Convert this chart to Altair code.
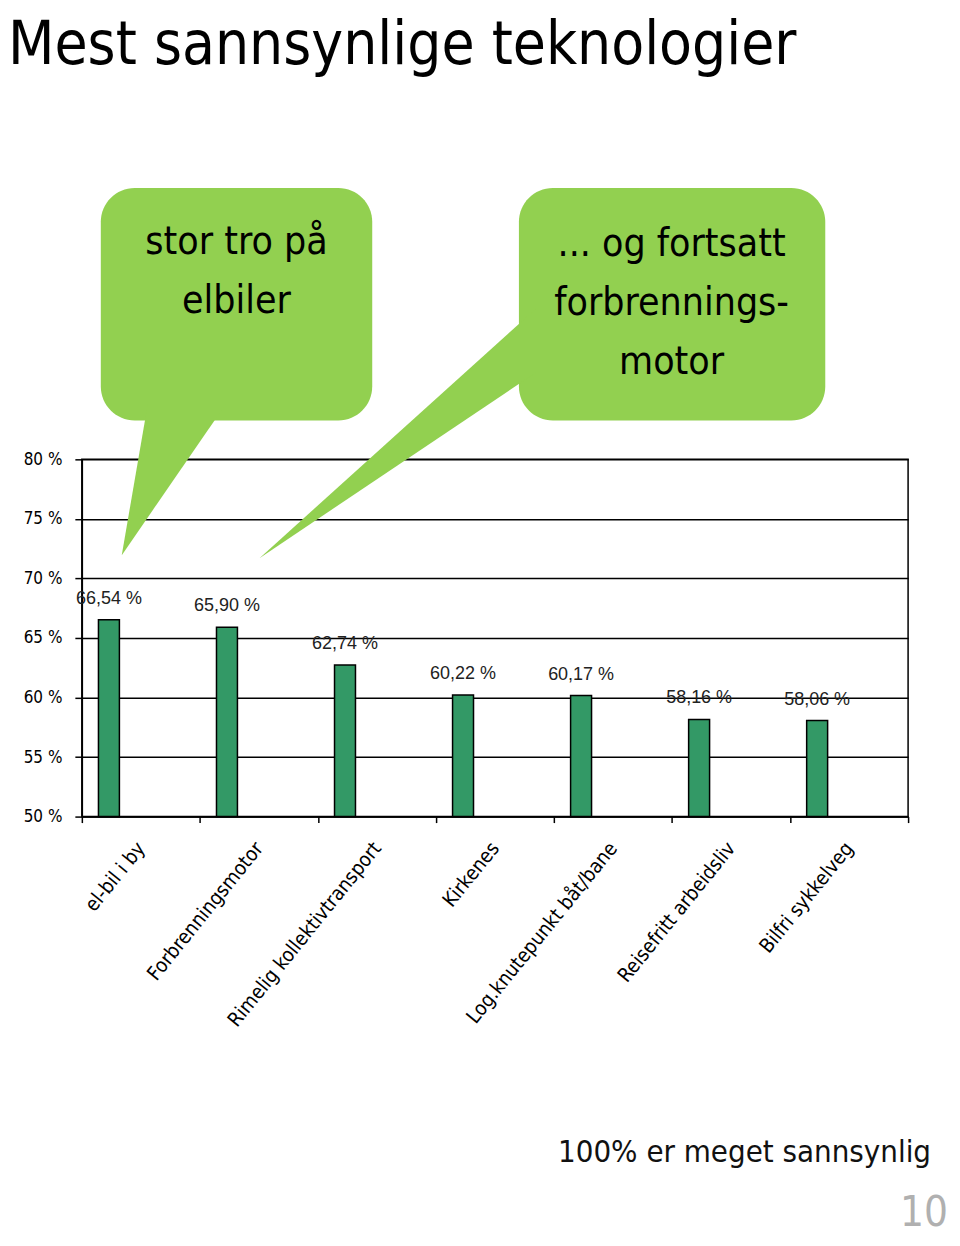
import altair as alt
import pandas as pd

# ---------------- data ----------------
categories = ["el-bil i by", "Forbrenningsmotor", "Rimelig kollektivtransport", "Kirkenes",
              "Log.knutepunkt båt/bane", "Reisefritt arbeidsliv", "Bilfri sykkelveg"]
values = [66.54, 65.90, 62.74, 60.22, 60.17, 58.16, 58.06]
y_ticks = [50, 55, 60, 65, 70, 75, 80]

title_text = "Mest sannsynlige teknologier"
bubble1_lines = ["stor tro på", "elbiler"]
bubble2_lines = ["... og fortsatt", "forbrennings-", "motor"]
note_text = "100% er meget sannsynlig"
page_no = "10"

df = pd.DataFrame({"kategori": categories, "verdi": values})
one = pd.DataFrame({"k": [0]})

NARROW = "DejaVu Sans Condensed, Liberation Sans Narrow, sans-serif"
GREEN = "#92d050"
BAR = "#339966"

x_enc = alt.X(
    "kategori:N", sort=categories,
    scale=alt.Scale(paddingInner=0, paddingOuter=0),
    axis=alt.Axis(title=None, labelAngle=-51, labelAlign="right", labelBaseline="middle",
                  labelFont=NARROW, labelFontSize=20, labelColor="black", labelPadding=22,
                  labelLimit=0, tickBand="extent", tickSize=6, tickColor="black",
                  tickWidth=1.5, domainColor="black", domainWidth=1.5, grid=False),
)
y_enc = alt.Y(
    "verdi:Q",
    scale=alt.Scale(domain=[50, 80], nice=False, zero=False),
    axis=alt.Axis(title=None, values=y_ticks, labelExpr="datum.value + ' %'",
                  labelFont=NARROW, labelFontSize=17, labelColor="black", labelPadding=13,
                  tickSize=7, tickColor="black", tickWidth=1.5,
                  domainColor="black", domainWidth=1.5,
                  grid=True, gridColor="black", gridWidth=1.5),
)

bars = alt.Chart(df).mark_bar(width=21, xOffset=-32, color=BAR, stroke="black",
                              strokeWidth=1.5).encode(x=x_enc, y=y_enc, y2=alt.datum(50))

labels = alt.Chart(df).transform_calculate(
    lbl="replace(format(datum.verdi, '.2f'), '.', ',') + ' %'"
).mark_text(xOffset=-32, dy=-12, baseline="bottom", font="Liberation Sans, Arial, sans-serif",
            fontSize=18, color="#222222").encode(
    x=alt.X("kategori:N", sort=categories), y="verdi:Q", text="lbl:N")


def rect(x1, x2, y1, y2):
    return alt.Chart(one).mark_rect(cornerRadius=34, color=GREEN).encode(
        x=alt.value(x1), x2=alt.value(x2), y=alt.value(y1), y2=alt.value(y2))


def tail(path):
    return alt.Chart(one).mark_point(shape=path, size=4, filled=True, color=GREEN,
                                     opacity=1, strokeWidth=0).encode(
        x=alt.value(0), y=alt.value(0))


def txt(text, xv, yv, size, align="center", color="black", line_height=None, font=NARROW):
    kw = dict(text=text, align=align, baseline="alphabetic", font=font, fontSize=size,
              color=color)
    if line_height is not None:
        kw["lineHeight"] = line_height
    return alt.Chart(one).mark_text(**kw).encode(x=alt.value(xv), y=alt.value(yv))


layers = [
    bars, labels,
    rect(19, 291, -272, -39),
    tail("M 40 96 L 66 -55 L 144 -55 Z"),
    rect(438, 745, -272, -39),
    tail("M 178 99 L 455 -151 L 455 -87 Z"),
    txt(bubble1_lines, 155, -206, 39, line_height=59),
    txt(bubble2_lines, 591, -204, 39, line_height=59),
    txt(title_text, -74, -396, 60, align="left"),
    txt(note_text, 851, 704, 31, align="right", color="#111111"),
    txt(page_no, 868, 768, 42, align="right", color="#b0b0b0"),
]

chart = alt.layer(*layers).properties(
    width=828, height=358,
    padding={"left": 74, "top": 451, "right": 44, "bottom": 421},
    autosize=alt.AutoSizeParams(type="none"),
    background="white",
).configure_view(stroke="black", strokeWidth=1.5)

chart.save("out.html", embed_options={"renderer": "svg", "actions": False})
